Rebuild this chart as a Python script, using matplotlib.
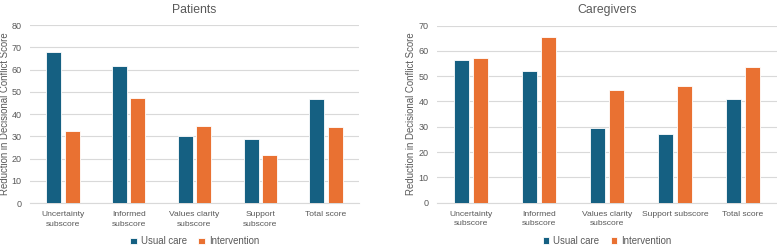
import matplotlib
matplotlib.use('Agg')
import matplotlib.pyplot as plt
import numpy as np

plt.rcParams['font.family'] = ['Liberation Sans', 'DejaVu Sans']

categories = ['Uncertainty\nsubscore', 'Informed\nsubscore', 'Values clarity\nsubscore',
              'Support\nsubscore', 'Total score']
categories_cg = ['Uncertainty\nsubscore', 'Informed\nsubscore', 'Values clarity\nsubscore',
                 'Support subscore', 'Total score']

patients_usual = [67.7, 61.6, 30.2, 28.8, 46.7]
patients_interv = [32.5, 47.1, 34.8, 21.8, 34.2]
caregivers_usual = [56.5, 52.0, 29.6, 27.1, 40.8]
caregivers_interv = [57.1, 65.4, 44.5, 46.1, 53.8]

BLUE = '#156082'
ORANGE = '#E97132'
GRAY = '#595959'

fig = plt.figure(figsize=(7.77, 2.48), dpi=100)
ax1 = fig.add_axes([0.0386, 0.181, 0.4234, 0.718])
ax2 = fig.add_axes([0.5624, 0.183, 0.4376, 0.714])


def draw(ax, title, cats, usual, interv, ymax, ystep, ylab_x):
    x = np.arange(len(cats))
    w = 0.23
    ax.bar(x - 0.14, usual, w, color=BLUE, edgecolor='white', linewidth=0.6,
           label='Usual care', zorder=3)
    ax.bar(x + 0.14, interv, w, color=ORANGE, edgecolor='white', linewidth=0.6,
           label='Intervention', zorder=3)
    ax.set_xlim(-0.5, len(cats) - 0.5)
    ax.set_ylim(0, ymax)
    ax.set_yticks(np.arange(0, ymax + 1, ystep))
    ax.grid(axis='y', color='#d9d9d9', linewidth=0.8, zorder=0)
    for s in ['top', 'right', 'left']:
        ax.spines[s].set_visible(False)
    ax.spines['bottom'].set_color('#d9d9d9')
    ax.set_xticks(x)
    ax.set_xticklabels(cats, fontsize=6.1, color=GRAY, linespacing=1.45)
    ax.tick_params(axis='y', labelsize=6.5, labelcolor=GRAY, length=0, pad=6)
    ax.tick_params(axis='x', length=0, pad=6)
    ax.set_ylabel('Reduction in Decisional Conflict Score', fontsize=6.9, color=GRAY)
    ax.yaxis.set_label_coords(ylab_x, 0.5)
    ax.set_title(title, fontsize=8.8, color=GRAY, pad=9)
    ax.legend(loc='center', bbox_to_anchor=(0.5, -0.215), ncol=2, frameon=False,
              fontsize=6.9, labelcolor=GRAY, handlelength=0.7, handleheight=0.7,
              handletextpad=0.4, columnspacing=1.2, borderaxespad=0)


draw(ax1, 'Patients', categories, patients_usual, patients_interv, 80, 10, -0.061)
draw(ax2, 'Caregivers', categories_cg, caregivers_usual, caregivers_interv, 70, 10, -0.062)

fig.savefig('out.png', dpi=100)
